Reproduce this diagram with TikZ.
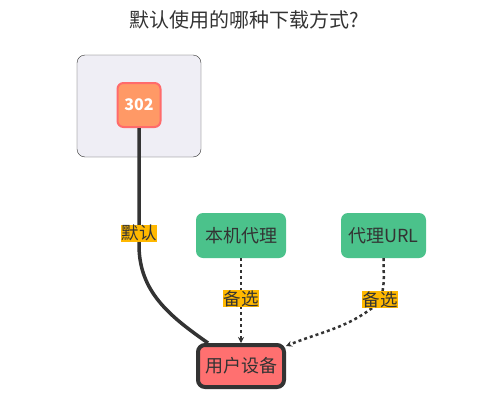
\documentclass[tikz,border=0pt]{standalone}
\usepackage{fontspec}
\setmainfont{Noto Sans CJK SC}
\usepackage{tikz}
\usetikzlibrary{arrows.meta,positioning,calc}
\definecolor{inkdark}{HTML}{333333}
\definecolor{clusterbg}{HTML}{EFEEF5}
\definecolor{codefill}{HTML}{FF9966}
\definecolor{codeline}{HTML}{FF6B6B}
\definecolor{proxygreen}{HTML}{4BC28B}
\definecolor{devred}{HTML}{FF7070}
\definecolor{tagyellow}{HTML}{FFB800}

\begin{document}
\begin{tikzpicture}[>=Stealth, x=1pt, y=-1pt,
  box/.style={rounded corners=7pt, align=center, inner sep=0pt, font=\fontsize{18}{21}\selectfont, text=inkdark},
  lbl/.style={fill=tagyellow, inner sep=0.5pt, font=\fontsize{17.5}{20}\selectfont, text=inkdark},
  solidedge/.style={draw=inkdark, line width=3.5pt},
  dottededge/.style={draw=inkdark, line width=2.5pt, dash pattern=on 3pt off 3pt, -{Stealth[length=6pt,width=6pt]}}]
\useasboundingbox (0,0) rectangle (482,407);
% title
\node[font=\fontsize{20}{23}\selectfont, text=inkdark] (title) at (244,20) {默认使用的哪种下载方式?};
% cluster with the 302 response
\draw[fill=clusterbg, draw=inkdark, rounded corners=8pt] (77,55) rectangle (201,157);
\node[box, fill=codefill, draw=codeline, line width=2pt, rounded corners=6pt,
  minimum width=43pt, minimum height=44pt, text=white, font=\fontsize{16}{19}\selectfont\bfseries] (n302) at (139,105) {302};
% proxies and device
\node[box, fill=proxygreen, minimum width=90pt, minimum height=45pt] (local) at (241,235.5) {本机代理};
\node[box, fill=proxygreen, minimum width=85pt, minimum height=45pt] (url) at (383.5,235.5) {代理URL};
\node[box, fill=devred, draw=inkdark, line width=4pt, minimum width=86pt, minimum height=42pt] (dev) at (241,366) {用户设备};
% edges
\draw[solidedge] (n302.south) -- node[lbl, pos=0.9] {默认} ++(0,117)
  to[out=-90, in=145] ([xshift=12pt]dev.north west);
\draw[dottededge] (local.south) -- node[lbl, pos=0.48] {备选} (dev.north);
\draw[dottededge] (url.south) to[out=-90, in=70] node[lbl, pos=0.95] {备选} ++(-4,44)
  to[out=-140, in=22] ([yshift=-3pt]dev.north east);
\end{tikzpicture}
\end{document}
